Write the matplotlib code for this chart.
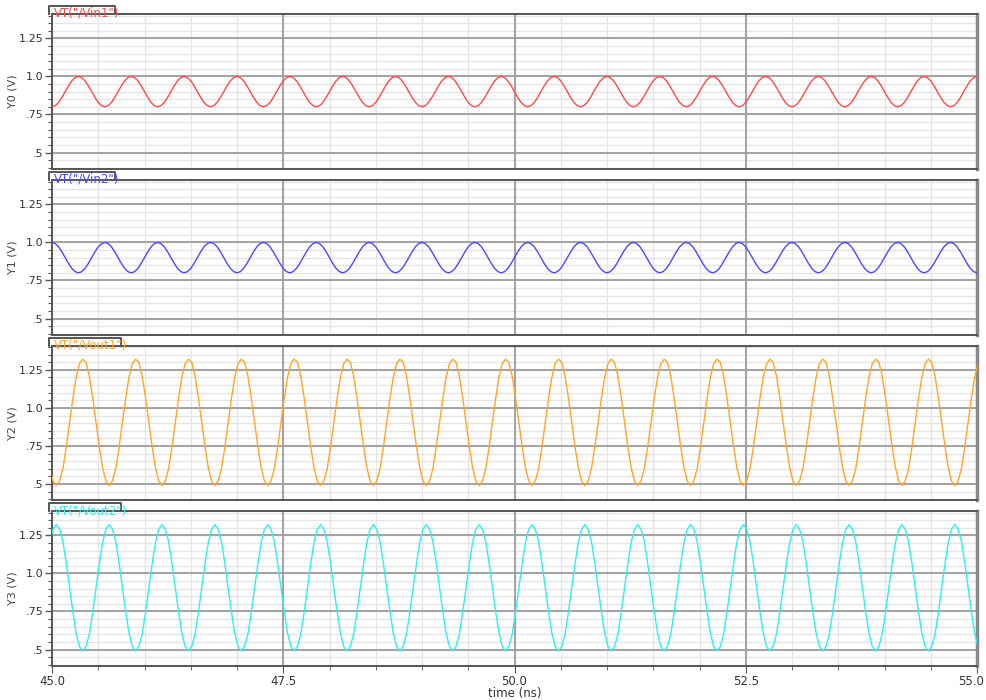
import numpy as np
import matplotlib.pyplot as plt
import matplotlib.transforms as mtransforms
from matplotlib.lines import Line2D

# one steady-state period of each waveform (16 samples / cycle)
period = 0.5714  # ns
vin1_cycle = [0.800, 0.808, 0.829, 0.862, 0.900, 0.938, 0.971, 0.992,
              1.000, 0.992, 0.971, 0.938, 0.900, 0.862, 0.829, 0.808]
vin2_cycle = [1.000, 0.992, 0.971, 0.938, 0.900, 0.862, 0.829, 0.808,
              0.800, 0.808, 0.829, 0.862, 0.900, 0.938, 0.971, 0.992]
vout1_cycle = [0.49, 0.52, 0.60, 0.74, 0.90, 1.06, 1.20, 1.29,
               1.32, 1.30, 1.21, 1.07, 0.91, 0.75, 0.61, 0.52]
vout2_cycle = [1.32, 1.29, 1.21, 1.07, 0.91, 0.75, 0.61, 0.52,
               0.49, 0.52, 0.60, 0.74, 0.90, 1.06, 1.20, 1.29]
# time where each cycle table starts (first sample), ns
cycle_start = [44.4286, 44.4286, 44.475, 44.475]

names = ['VT("/Vin1")', 'VT("/Vin2")', 'VT("/Vout1")', 'VT("/Vout2")']
ylabels = ["Y0 (V)", "Y1 (V)", "Y2 (V)", "Y3 (V)"]
colors = ["#ff4a4a", "#4a4aff", "#ffa626", "#2ef0f0"]
ytick_vals = [0.5, 0.75, 1.0, 1.25]
ytick_text = [".5", ".75", "1.0", "1.25"]
xtick_vals = [45.0, 47.5, 50.0, 52.5, 55.0]
xtick_text = ["45.0", "47.5", "50.0", "52.5", "55.0"]
cycles = [vin1_cycle, vin2_cycle, vout1_cycle, vout2_cycle]

W, H = 987, 700
fig = plt.figure(figsize=(W / 100, H / 100), dpi=100)

tops = [14, 180, 345.5, 511]
ph = 154.5
left, width = 52, 925
tab_right = [115, 115, 121, 121]

for i in range(4):
    ax = fig.add_axes([left / W, 1 - (tops[i] + ph) / H, width / W, ph / H])

    vals = np.tile(cycles[i], 20)
    t = cycle_start[i] + period * np.arange(len(vals)) / len(cycles[i])
    ax.plot(t, vals, color=colors[i], lw=1.0, zorder=3)

    ax.set_xlim(45, 55)
    ax.set_ylim(0.395, 1.41)

    # grid
    for y in np.arange(0.40, 1.41, 0.05):
        ax.axhline(y, color="#e4e4e4", lw=0.9, zorder=1)
    for y in ytick_vals:
        ax.axhline(y, color="#9c9c9c", lw=1.3, zorder=2)
    for x in np.arange(45.5, 55, 0.5):
        ax.axvline(x, color="#e4e4e4", lw=0.9, zorder=1)
    for x in xtick_vals[1:-1]:
        ax.axvline(x, color="#9c9c9c", lw=1.3, zorder=2)

    ax.set_yticks(ytick_vals)
    ax.set_yticklabels(ytick_text)
    ax.set_yticks(np.arange(0.40, 1.41, 0.05), minor=True)
    ax.tick_params(axis="y", which="major", length=5, width=1, color="#555555",
                   labelsize=8, labelcolor="#333333", pad=1)
    ax.tick_params(axis="y", which="minor", length=3, width=0.8, color="#555555")
    ax.set_ylabel(ylabels[i], fontsize=8, color="#444444", labelpad=1)

    ax.set_xticks(xtick_vals)
    ax.set_xticks(np.arange(45, 55.01, 0.5), minor=True)
    if i == 3:
        ax.set_xticklabels(xtick_text)
        ax.tick_params(axis="x", which="major", length=5, color="#555555",
                       labelsize=8.5, labelcolor="#333333", pad=2)
        ax.tick_params(axis="x", which="minor", length=3, color="#555555")
        ax.set_xlabel("time (ns)", fontsize=8.5, color="#333333", labelpad=-1)
        # keep the last label inside the figure edge
        last = ax.get_xticklabels()[-1]
        last.set_transform(last.get_transform() +
                           mtransforms.ScaledTranslation(-6 / 100, 0, fig.dpi_scale_trans))
    else:
        ax.tick_params(axis="x", which="both", length=0, labelbottom=False)

    for side in ["left", "bottom", "top"]:
        ax.spines[side].set_color("#555555")
        ax.spines[side].set_linewidth(1.4)
    ax.spines["right"].set_color("#8a8a8a")
    ax.spines["right"].set_linewidth(2.5)

    # signal name tab
    x0 = -3 / width
    x1 = (tab_right[i] - left) / width
    h = 8 / ph
    ax.add_line(Line2D([x0, x0, x1, x1], [1, 1 + h, 1 + h, 1], transform=ax.transAxes,
                       color="#555555", lw=1.4, clip_on=False, zorder=5))
    ax.text(2 / width, 1 + h - 1 / ph, names[i], transform=ax.transAxes,
            color=colors[i], fontsize=8.5, ha="left", va="top", zorder=6)

fig.savefig("out.png", dpi=100)
